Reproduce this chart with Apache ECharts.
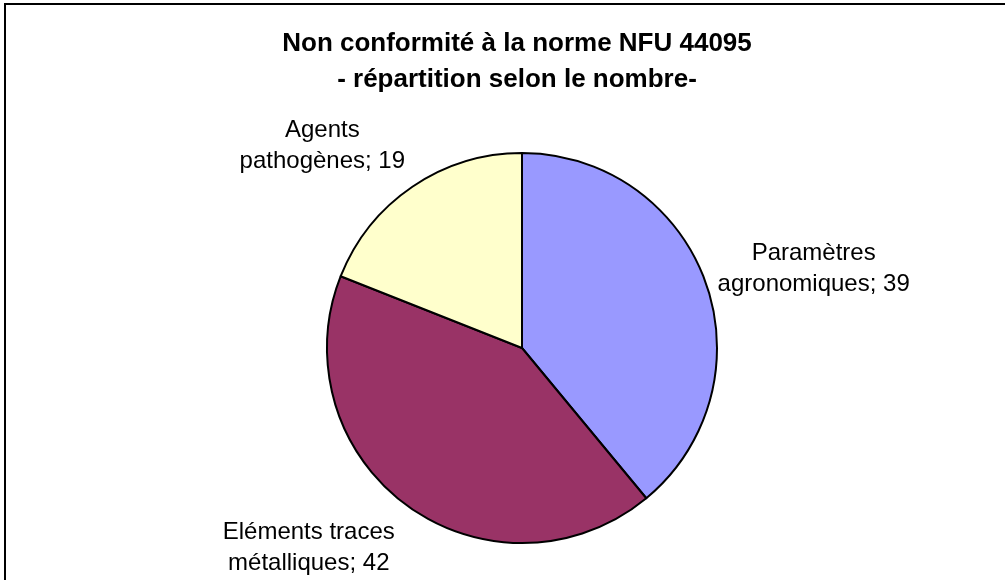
<!DOCTYPE html>
<html>
<head>
<meta charset="utf-8">
<script src="https://cdn.jsdelivr.net/npm/echarts@6/dist/echarts.min.js"></script>
<style>
html,body{margin:0;padding:0;background:#fff;}
#chart{width:1005px;height:580px;}
</style>
</head>
<body>
<div id="chart"></div>
<script>
var titleLines = ['Non conformité à la norme NFU 44095', '- répartition selon le nombre-'];
var categories = ['Paramètres\nagronomiques', 'Eléments traces\nmétalliques', 'Agents\npathogènes'];
var values = [39, 42, 19];
var colors = ['#9999FF', '#993366', '#FFFFCC'];

var FONT = '"Liberation Sans", Arial, sans-serif';
// label nudges (style only), applied on top of the library's label placement
var labelNudge = [[16, 20], [-41, -37], [-35, 40]];

var data = categories.map(function (c, i) {
  return { name: c, value: values[i], itemStyle: { color: colors[i] } };
});
var ghostData = categories.map(function (c, i) {
  return { name: c, value: values[i] };
});

var chart = echarts.init(document.getElementById('chart'), null, { renderer: 'canvas' });
chart.setOption({
  backgroundColor: '#ffffff',
  animation: false,
  title: {
    text: titleLines.join('\n'),
    left: 512,
    top: 21,
    textAlign: 'center',
    textStyle: { fontFamily: FONT, fontSize: 26, fontWeight: 'bold', color: '#000', lineHeight: 36 }
  },
  graphic: [{
    type: 'rect',
    shape: { x: 5, y: 4, width: 1020, height: 600 },
    style: { fill: 'none', stroke: '#000', lineWidth: 2 },
    silent: true, z: 100
  }],
  series: [{
    type: 'pie',
    center: [522, 348],
    radius: 195,
    startAngle: 90,
    clockwise: true,
    silent: true,
    itemStyle: { borderColor: '#000', borderWidth: 2 },
    label: { show: false },
    labelLine: { show: false },
    data: data
  }, {
    type: 'pie',
    center: [522, 348],
    radius: [286, 294],
    startAngle: 90,
    clockwise: true,
    silent: true,
    itemStyle: { color: 'rgba(0,0,0,0)', borderWidth: 0 },
    label: {
      show: true,
      position: 'inside',
      formatter: function (p) { return p.name + '; ' + p.value; },
      fontFamily: FONT, fontSize: 24, color: '#000', lineHeight: 31, align: 'center'
    },
    labelLayout: function (p) {
      var n = labelNudge[p.dataIndex];
      return { dx: n[0], dy: n[1] };
    },
    labelLine: { show: false },
    data: ghostData
  }]
});
</script>
</body>
</html>
